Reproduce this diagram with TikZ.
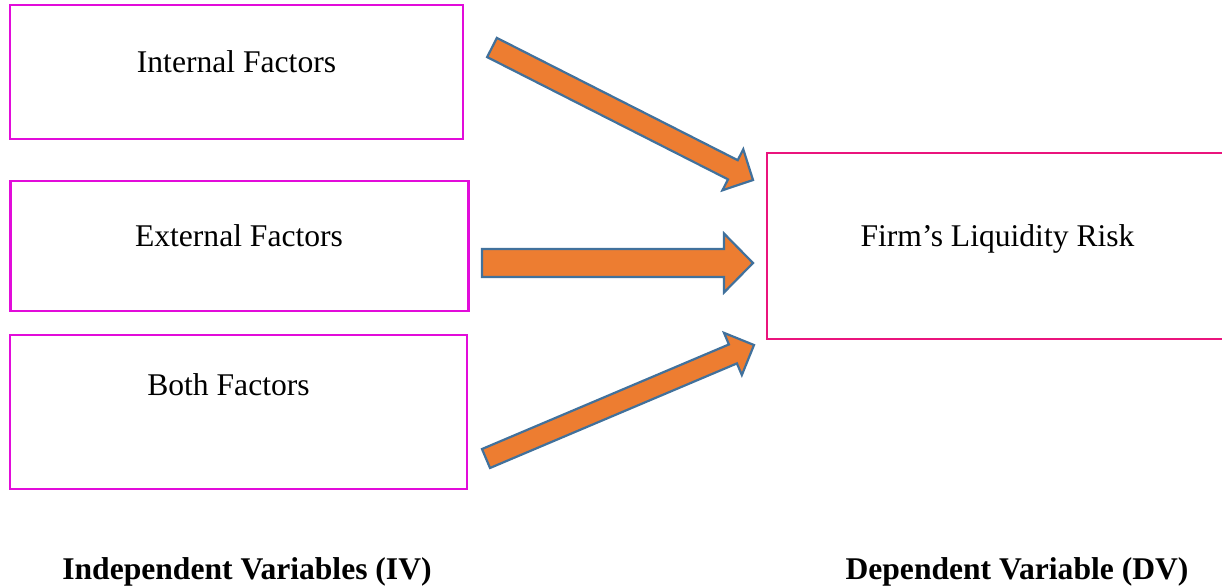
\documentclass[tikz,border=0pt]{standalone}
\usepackage{fontspec}
\setmainfont{Liberation Serif}
\usetikzlibrary{calc}
\definecolor{boxmag}{RGB}{226,12,218}
\definecolor{boxpink}{RGB}{234,20,125}
\definecolor{arrfill}{HTML}{ED7D31}
\definecolor{arrline}{HTML}{41719C}
\newcommand\blockarr[5]{%
  \coordinate (#1h) at ($(#2)!#5!(#1)$);
  \draw[barrow] ($(#1)!#3!90:(#2)$) -- ($(#1h)!#3!90:(#2)$) -- ($(#1h)!#4!90:(#2)$)
    -- (#2) -- ($(#1h)!#4!-90:(#2)$) -- ($(#1h)!#3!-90:(#2)$) -- ($(#1)!#3!-90:(#2)$) -- cycle;}
\begin{document}
\begin{tikzpicture}[x=1pt,y=-1pt,
  leftbox/.style={draw=boxmag,line width=2.6pt,minimum width=#1,inner sep=0pt},
  rightbox/.style={draw=boxpink,line width=2.6pt,inner sep=0pt},
  lbl/.style={anchor=base,inner sep=0pt,font=\fontsize{31.6}{38}\selectfont},
  blbl/.style={anchor=base,inner sep=0pt,font=\fontsize{31.6}{38}\selectfont\bfseries},
  barrow/.style={draw=arrline,fill=arrfill,line width=2.2pt,line join=miter}]
\useasboundingbox (0,0) rectangle (1222,587);
% boxes
\node[leftbox=453pt,minimum height=134pt] (b1) at (236.5,72) {};
\node[leftbox=458pt,minimum height=130pt] (b2) at (239.5,246) {};
\node[leftbox=457pt,minimum height=154pt] (b3) at (238.5,412) {};
\node[rightbox,minimum width=460pt,minimum height=186pt] (dv) at (997,246) {};
% labels
\node[lbl] (t1) at (236.5,72) {Internal Factors};
\node[lbl] (t2) at (239,246) {External Factors};
\node[lbl] (t3) at (228.5,395) {Both Factors};
\node[lbl] (t4) at (997.5,246) {Firm’s Liquidity Risk};
\node[blbl] (iv) at (247,579) {Independent Variables (IV)};
\node[blbl] (dvl) at (1017,579) {Dependent Variable (DV)};
% arrows
\coordinate (a1) at (492,47.5);
\coordinate (e1) at (753,180);
\coordinate (a2) at (482,263);
\coordinate (e2) at (753,263);
\coordinate (a3) at (486,458.5);
\coordinate (e3) at (754,345);
\blockarr{a1}{e1}{10.75pt}{23pt}{22.6pt}
\blockarr{a2}{e2}{14pt}{29.5pt}{29pt}
\blockarr{a3}{e3}{10.3pt}{22.9pt}{22.9pt}
\end{tikzpicture}
\end{document}
